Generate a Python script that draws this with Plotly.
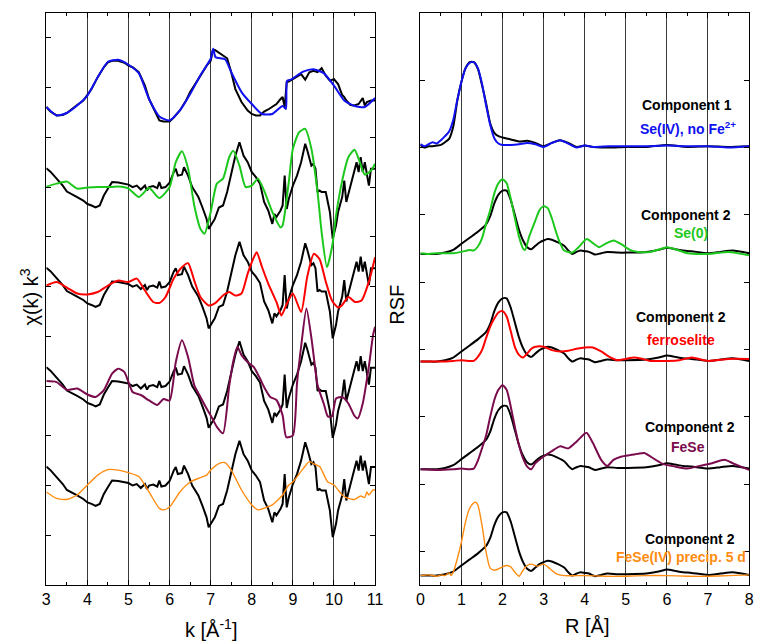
import plotly.graph_objects as go

# ---------------- LEFT PANEL DATA (k-space, chi(k)k^3, relative to row offset) ----------------
k_comp1 = [3.0,3.1,3.25,3.4,3.5,3.6,3.75,3.9,4.0,4.1,4.25,4.4,4.5,4.6,4.75,4.9,5.0,5.1,5.25,5.4,5.5,5.6,5.75,5.85,
           6.0,6.1,6.25,6.4,6.5,6.6,6.75,6.9,7.0,7.05,7.1,7.2,7.3,7.4,7.5,7.6,7.75,7.9,8.0,8.1,8.2,8.3,8.4,8.5,8.6,
           8.7,8.75,8.8,8.85,8.9,9.0,9.1,9.2,9.3,9.4,9.5,9.6,9.7,9.75,9.8,9.9,10.0,10.1,10.2,10.25,10.3,10.4,10.5,
           10.6,10.7,10.75,10.8,10.9,11.0]
chi_comp1 = [-0.39,-0.48,-0.56,-0.55,-0.51,-0.44,-0.35,-0.26,-0.15,-0.03,0.21,0.41,0.51,0.54,0.54,0.50,0.44,0.41,0.31,0.04,
             -0.23,-0.39,-0.66,-0.68,-0.68,-0.60,-0.46,-0.26,-0.09,0.04,0.24,0.44,0.54,0.74,0.76,0.70,0.64,0.59,0.31,-0.03,
             -0.29,-0.46,-0.53,-0.56,-0.56,-0.48,-0.44,-0.39,-0.33,-0.23,-0.19,-0.39,0.11,0.12,0.17,0.23,0.27,0.16,0.31,0.34,
             0.31,0.39,0.32,0.24,0.14,0.17,0.07,-0.15,-0.19,-0.26,-0.35,-0.36,-0.33,-0.21,-0.36,-0.29,-0.26,-0.26]

k_seiv = [3.0,3.25,3.5,3.75,4.0,4.25,4.5,4.75,5.0,5.25,5.5,5.75,6.0,6.25,6.5,6.75,7.0,7.06,7.12,7.35,7.5,7.75,8.0,
          8.25,8.5,8.75,8.83,8.86,8.95,9.25,9.5,9.75,10.0,10.25,10.5,10.75,11.0]
chi_seiv = [-0.39,-0.56,-0.51,-0.36,-0.16,0.21,0.52,0.56,0.46,0.29,-0.23,-0.58,-0.66,-0.46,-0.13,0.25,0.58,0.78,0.61,0.57,
            0.31,-0.09,-0.33,-0.53,-0.53,-0.37,-0.43,0.14,0.16,0.32,0.37,0.29,0.04,-0.26,-0.37,-0.39,-0.21]

k_comp2 = [3.0,3.1,3.25,3.4,3.5,3.6,3.75,3.9,4.0,4.1,4.2,4.3,4.4,4.5,4.6,4.75,4.9,5.0,5.1,5.2,5.3,5.4,5.45,5.5,5.6,5.7,
           5.75,5.8,5.9,6.0,6.1,6.15,6.2,6.3,6.35,6.45,6.55,6.7,6.8,6.9,6.95,7.0,7.1,7.2,7.3,7.4,7.5,7.6,7.7,7.8,7.9,
           8.0,8.1,8.2,8.3,8.4,8.5,8.55,8.6,8.7,8.75,8.8,8.85,8.9,9.0,9.1,9.2,9.3,9.35,9.45,9.5,9.55,9.6,9.65,9.7,9.8,
           9.9,9.97,10.05,10.1,10.2,10.25,10.3,10.4,10.5,10.55,10.6,10.65,10.7,10.75,10.85,10.9,11.0]
chi_comp2 = [0.38,0.31,0.17,0.03,-0.09,-0.14,-0.20,-0.27,-0.34,-0.37,-0.41,-0.37,-0.17,-0.03,0.10,0.09,0.07,0.05,0.0,0.03,
             -0.05,0.03,-0.07,0.0,0.02,-0.02,0.10,-0.02,0.0,0.09,0.30,0.37,0.23,0.25,0.40,0.23,0.0,-0.20,-0.41,-0.64,-0.84,
             -0.77,-0.64,-0.41,-0.37,-0.10,0.30,0.63,0.90,0.63,0.50,0.30,0.20,0.07,-0.30,-0.47,-0.74,-0.54,-0.60,-0.47,-0.37,
             0.23,-0.44,-0.24,0.03,0.23,0.50,0.87,0.74,0.43,0.47,0.37,-0.10,-0.07,-0.10,-0.10,-0.50,-1.04,-0.77,-0.50,-0.20,
             0.13,-0.30,0.03,0.30,0.50,0.30,0.60,0.30,0.50,0.03,0.37,0.37]

k_se0 = [3.0,3.25,3.5,3.75,4.0,4.25,4.5,4.75,5.0,5.25,5.5,5.75,6.0,6.15,6.3,6.45,6.6,6.75,6.85,7.0,7.15,7.3,7.45,7.55,
         7.7,7.85,8.0,8.15,8.3,8.5,8.7,8.75,8.9,9.0,9.15,9.3,9.45,9.6,9.7,9.83,9.96,10.05,10.2,10.35,10.5,10.6,10.75,10.9,11.0]
chi_se0 = [0.01,0.07,0.11,-0.03,-0.01,0.0,0.0,0.01,-0.03,-0.20,-0.02,-0.22,0.0,0.50,0.72,0.37,-0.37,-0.84,-0.94,-0.50,
           0.07,0.17,0.60,0.73,0.43,0.0,0.03,0.17,-0.07,-0.50,-0.81,-0.77,0.10,0.77,1.10,1.17,0.77,-0.10,-0.91,-1.61,
           -1.17,-0.57,0.13,0.60,0.75,0.57,0.25,0.33,0.47]

k_ferro = [3.0,3.25,3.5,3.75,4.0,4.25,4.5,4.75,5.0,5.2,5.4,5.6,5.75,5.9,6.1,6.3,6.45,6.6,6.75,6.95,7.1,7.3,7.45,7.6,
           7.75,7.9,8.05,8.12,8.25,8.4,8.6,8.72,8.85,9.0,9.2,9.35,9.51,9.65,9.8,9.95,10.1,10.19,10.35,10.51,10.67,10.85,11.0]
chi_ferro = [0.02,0.09,-0.02,-0.14,-0.16,-0.11,0.02,0.12,0.09,0.16,-0.08,-0.31,-0.33,-0.21,0.16,0.39,0.47,0.12,-0.21,-0.38,
             -0.34,-0.18,-0.11,-0.18,-0.14,0.26,0.59,0.69,0.39,0.06,-0.31,-0.58,-0.35,-0.14,-0.51,0.20,0.66,0.55,0.10,-0.28,
             -0.42,-0.38,-0.21,-0.31,-0.28,0.10,0.59]

k_fese = [3.0,3.25,3.5,3.75,4.0,4.2,4.4,4.6,4.75,4.9,5.0,5.1,5.3,5.5,5.7,5.85,6.0,6.15,6.3,6.45,6.6,6.75,6.9,7.0,7.15,
          7.3,7.45,7.55,7.65,7.75,7.9,8.05,8.2,8.3,8.45,8.6,8.75,8.84,9.0,9.1,9.2,9.33,9.47,9.6,9.75,9.85,9.95,10.05,10.2,
          10.35,10.5,10.58,10.7,10.85,10.95,11.0]
chi_fese = [0.10,0.08,-0.08,-0.05,-0.17,-0.22,-0.08,0.25,0.35,0.28,0.08,-0.12,-0.18,-0.29,-0.38,-0.26,-0.29,0.48,0.92,0.58,
            0.02,-0.22,-0.45,-0.59,-0.82,-0.95,0.0,0.50,0.79,0.62,0.48,0.38,0.15,-0.02,-0.22,-0.28,-0.59,-1.03,-0.99,0.05,
            0.79,1.56,0.85,0.02,-0.35,-0.61,-0.61,-0.25,-0.22,-0.35,-0.60,-0.65,-0.35,0.40,1.02,1.19]

k_fese4 = [3.0,3.25,3.5,3.75,4.0,4.25,4.5,4.75,5.0,5.25,5.5,5.75,5.85,6.0,6.25,6.5,6.75,6.9,7.0,7.2,7.35,7.5,7.75,8.0,
           8.15,8.35,8.5,8.75,8.9,9.0,9.25,9.4,9.5,9.65,9.85,10.0,10.2,10.35,10.5,10.65,10.75,10.8,10.85,10.95,11.0]
chi_fese4 = [-0.13,-0.26,-0.28,-0.19,0.01,0.21,0.32,0.31,0.26,0.18,-0.13,-0.46,-0.49,-0.43,-0.13,0.07,0.16,0.21,0.31,0.44,
             0.46,0.31,-0.09,-0.39,-0.49,-0.44,-0.39,-0.19,0.01,0.07,0.34,0.48,0.44,0.38,0.07,0.01,-0.19,-0.26,-0.28,-0.21,
             -0.24,-0.13,-0.19,-0.09,-0.09]

left_offsets = [10, 8, 6, 4, 2]

# ---------------- RIGHT PANEL DATA (R-space, RSF relative to row baseline) ----------------
R_comp1 = [0.0,0.1,0.2,0.3,0.4,0.5,0.6,0.7,0.8,0.9,1.0,1.1,1.2,1.3,1.4,1.5,1.6,1.7,1.8,1.9,2.0,2.2,2.4,2.6,2.8,3.0,
           3.2,3.4,3.6,3.8,4.0,4.2,4.6,5.0,5.5,6.0,6.5,7.0,7.5,8.0]
rsf_comp1 = [0.04,0.0,0.02,0.02,0.03,0.04,0.08,0.13,0.31,0.70,0.98,1.18,1.27,1.27,1.17,0.93,0.66,0.36,0.22,0.17,0.15,
             0.12,0.09,0.10,0.07,0.02,0.07,0.11,0.07,0.01,0.03,0.01,0.00,0.01,0.01,0.04,0.01,0.02,0.01,0.02]
rsf_seiv = [0.05,0.02,0.05,0.08,0.06,0.11,0.17,0.24,0.41,0.71,0.98,1.18,1.26,1.27,1.18,0.95,0.63,0.34,0.14,0.06,0.04,
            0.04,0.05,0.07,0.05,0.01,0.07,0.11,0.06,0.00,0.03,0.01,0.02,0.02,0.02,0.03,0.02,0.02,0.00,0.02]

R_comp2 = [0.0,0.2,0.4,0.6,0.8,1.0,1.2,1.4,1.6,1.7,1.8,1.9,2.0,2.1,2.2,2.3,2.4,2.5,2.6,2.7,2.8,2.9,3.0,3.1,3.2,3.35,
           3.5,3.6,3.7,3.8,3.9,4.0,4.1,4.25,4.4,4.55,4.8,5.05,5.5,5.8,6.0,6.2,6.4,6.6,7.0,7.3,7.6,8.0]
rsf_comp2 = [0.02,0.02,0.02,0.04,0.08,0.17,0.26,0.35,0.46,0.58,0.77,0.90,0.96,0.96,0.82,0.60,0.38,0.22,0.12,0.09,0.14,
             0.19,0.22,0.24,0.23,0.19,0.14,0.07,0.02,0.05,0.07,0.06,0.05,0.01,0.03,0.05,0.04,0.04,0.05,0.08,0.11,0.09,
             0.07,0.06,0.03,0.05,0.07,0.03]

R_se0 = [0.0,0.2,0.4,0.6,0.8,1.0,1.2,1.3,1.4,1.5,1.6,1.7,1.8,1.9,2.0,2.1,2.2,2.3,2.4,2.5,2.55,2.65,2.8,2.9,3.0,3.1,
         3.2,3.3,3.4,3.5,3.7,3.85,4.05,4.2,4.35,4.5,4.7,4.9,5.1,5.3,5.6,6.0,6.2,6.5,7.0,7.5,8.0]
rsf_se0 = [0.03,0.02,0.03,0.03,0.03,0.05,0.08,0.07,0.13,0.25,0.47,0.67,0.92,1.07,1.13,1.07,0.84,0.55,0.28,0.10,0.08,
           0.28,0.52,0.67,0.73,0.70,0.55,0.35,0.18,0.07,0.04,0.12,0.24,0.18,0.12,0.17,0.22,0.16,0.08,0.05,0.05,0.12,
           0.09,0.03,0.02,0.05,0.00]

R_ferro = [0.0,0.4,0.8,1.0,1.2,1.3,1.4,1.5,1.6,1.7,1.8,1.9,2.0,2.1,2.2,2.3,2.4,2.5,2.6,2.7,2.8,3.0,3.2,3.4,3.6,3.8,
           4.0,4.2,4.4,4.6,4.8,5.0,5.2,5.4,5.6,6.0,6.3,6.6,7.0,7.5,8.0]
rsf_ferro = [0.02,0.02,0.03,0.04,0.03,0.03,0.09,0.19,0.37,0.54,0.66,0.75,0.77,0.69,0.47,0.24,0.12,0.08,0.14,0.21,0.24,
             0.24,0.19,0.17,0.18,0.21,0.23,0.23,0.17,0.09,0.04,0.06,0.08,0.06,0.03,0.03,0.04,0.08,0.03,0.06,0.06]

R_fese = [0.0,0.4,0.8,1.0,1.2,1.3,1.4,1.5,1.6,1.7,1.8,1.9,2.0,2.1,2.2,2.3,2.4,2.5,2.6,2.7,2.8,3.0,3.2,3.4,3.6,3.8,
          4.0,4.05,4.2,4.4,4.55,4.7,4.9,5.1,5.3,5.45,5.7,5.9,6.2,6.5,6.8,7.1,7.4,7.6,7.8,8.0]
rsf_fese = [0.02,0.01,0.02,0.03,0.02,0.03,0.15,0.33,0.52,0.80,1.05,1.20,1.27,1.20,0.95,0.65,0.38,0.18,0.06,0.02,0.11,
            0.21,0.29,0.36,0.33,0.43,0.55,0.56,0.41,0.16,0.07,0.16,0.21,0.23,0.25,0.26,0.17,0.10,0.06,0.03,0.07,0.11,
            0.16,0.11,0.06,0.01]

R_fese4 = [0.0,0.2,0.4,0.5,0.6,0.7,0.75,0.8,0.9,1.0,1.1,1.2,1.3,1.35,1.4,1.5,1.6,1.7,1.8,1.9,2.0,2.1,2.2,2.3,2.4,2.5,
           2.6,2.7,2.85,3.0,3.1,3.3,3.5,4.0,4.5,5.0,5.5,6.0,6.5,7.0,7.5,8.0]
rsf_fese4 = [0.02,0.03,0.01,0.03,0.02,0.06,0.02,0.07,0.27,0.52,0.82,1.02,1.10,1.11,1.07,0.77,0.37,0.13,0.10,0.12,0.15,
             0.17,0.15,0.07,0.01,0.10,0.17,0.19,0.16,0.19,0.15,0.05,0.02,0.02,0.01,0.01,0.02,0.02,0.01,0.01,0.02,0.03]

right_offsets = [6.0, 4.4, 2.8, 1.2, -0.38]

ref_names = ["Se(IV), no Fe<sup>2+</sup>", "Se(0)", "ferroselite", "FeSe", "FeSe(IV) precip. 5 d"]
comp_names = ["Component 1", "Component 2", "Component 2", "Component 2", "Component 2"]
colors = ["#1010F0", "#1CC81C", "#FF0000", "#7A0B4C", "#FF8C10"]
x_ticks_left = [3, 4, 5, 6, 7, 8, 9, 10, 11]
x_ticks_right = [0, 1, 2, 3, 4, 5, 6, 7, 8]

W, H = 763, 643
FONT = "Liberation Sans, Arial, Helvetica, sans-serif"

def fx(p):
    return p / W

def fy(p):
    return 1 - p / H

fig = go.Figure()

left_black = [(k_comp1, chi_comp1)] + [(k_comp2, chi_comp2)] * 4
left_ref = [(k_seiv, chi_seiv), (k_se0, chi_se0), (k_ferro, chi_ferro), (k_fese, chi_fese), (k_fese4, chi_fese4)]
right_black = [(R_comp1, rsf_comp1)] + [(R_comp2, rsf_comp2)] * 4
right_ref = [(R_comp1, rsf_seiv), (R_se0, rsf_se0), (R_ferro, rsf_ferro), (R_fese, rsf_fese), (R_fese4, rsf_fese4)]

for i in range(5):
    off = left_offsets[i]
    kb, cb = left_black[i]
    kr, cr = left_ref[i]
    lw = 1.4 if i == 4 else 2.0
    fig.add_trace(go.Scatter(x=kb, y=[v + off for v in cb], mode="lines",
                             line=dict(color="black", width=2), xaxis="x", yaxis="y", hoverinfo="skip"))
    fig.add_trace(go.Scatter(x=kr, y=[v + off for v in cr], mode="lines",
                             line=dict(color=colors[i], width=lw, shape="spline", smoothing=0.6),
                             xaxis="x", yaxis="y", hoverinfo="skip"))
    offr = right_offsets[i]
    Rb, rb = right_black[i]
    Rr, rr = right_ref[i]
    fig.add_trace(go.Scatter(x=Rb, y=[v + offr for v in rb], mode="lines",
                             line=dict(color="black", width=2, shape="spline", smoothing=0.6),
                             xaxis="x2", yaxis="y2", hoverinfo="skip"))
    fig.add_trace(go.Scatter(x=Rr, y=[v + offr for v in rr], mode="lines",
                             line=dict(color=colors[i], width=lw, shape="spline", smoothing=0.6),
                             xaxis="x2", yaxis="y2", hoverinfo="skip"))

common_x = dict(showline=True, linecolor="black", linewidth=1, mirror="ticks", ticks="inside", ticklen=5,
                tickcolor="black", showgrid=True, gridcolor="#3a3a3a", gridwidth=1, zeroline=False,
                tickfont=dict(family=FONT, size=16, color="black"),
                minor=dict(dtick=0.5, ticks="inside", ticklen=3, tickcolor="black", showgrid=False))
common_y = dict(showline=True, linecolor="black", linewidth=1, mirror="ticks", ticks="inside", ticklen=5,
                tickcolor="black", showgrid=False, zeroline=False, showticklabels=False)

ydom = [fy(585), fy(13)]
fig.update_layout(
    width=W, height=H, margin=dict(l=0, r=0, t=0, b=0), autosize=False,
    paper_bgcolor="white", plot_bgcolor="white", showlegend=False,
    font=dict(family=FONT, color="black"),
    xaxis=dict(domain=[fx(43), fx(377)], range=[3, 11], tickvals=x_ticks_left, anchor="y", **common_x),
    yaxis=dict(domain=ydom, range=[0, 11.5], tickvals=list(range(0, 12)), anchor="x", **common_y),
    xaxis2=dict(domain=[fx(423), fx(757)], range=[0, 8], tickvals=x_ticks_right, anchor="y2", **common_x),
    yaxis2=dict(domain=ydom, range=[-0.5, 8], tickvals=list(range(0, 8)), anchor="x2", **common_y),
)

ann = []
ann.append(dict(text="k [Å<sup>-1</sup>]", x=fx(210), y=fy(628), xref="paper", yref="paper",
                showarrow=False, font=dict(family=FONT, size=20), xanchor="center", yanchor="middle"))
ann.append(dict(text="R [Å]", x=fx(592), y=fy(626), xref="paper", yref="paper",
                showarrow=False, font=dict(family=FONT, size=20), xanchor="center", yanchor="middle"))
ann.append(dict(text="χ(k) k<sup>3</sup>", x=fx(26), y=fy(297), xref="paper", yref="paper", textangle=-90,
                showarrow=False, font=dict(family=FONT, size=20), xanchor="center", yanchor="middle"))
ann.append(dict(text="RSF", x=fx(399), y=fy(305), xref="paper", yref="paper", textangle=-90,
                showarrow=False, font=dict(family=FONT, size=20), xanchor="center", yanchor="middle"))

comp_pos = [(694, 105), (693, 215), (688, 317), (697, 427), (697, 539)]
ref_pos = [(695, 128), (698, 233), (688, 340), (695, 447), (688, 557)]
for i in range(5):
    ann.append(dict(text="<b>%s</b>" % comp_names[i], x=fx(comp_pos[i][0]), y=fy(comp_pos[i][1]),
                    xref="paper", yref="paper", showarrow=False, xanchor="center", yanchor="middle",
                    font=dict(family=FONT, size=14, color="black")))
    ann.append(dict(text="<b>%s</b>" % ref_names[i], x=fx(ref_pos[i][0]), y=fy(ref_pos[i][1]),
                    xref="paper", yref="paper", showarrow=False, xanchor="center", yanchor="middle",
                    font=dict(family=FONT, size=14, color=colors[i])))
fig.update_layout(annotations=ann)

fig.write_html("out.html", include_plotlyjs=True, config={"displayModeBar": False},
               post_script="document.body.style.margin='0';")
